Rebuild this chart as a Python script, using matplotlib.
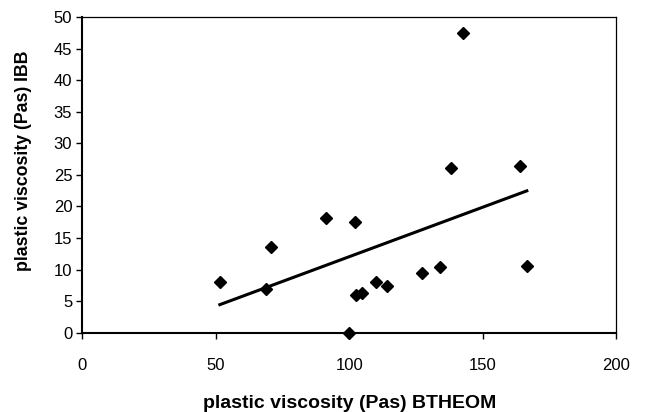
import numpy as np
import matplotlib
matplotlib.use("Agg")
import matplotlib.pyplot as plt

plt.rcParams['font.family'] = ['Liberation Sans', 'DejaVu Sans']

btheom = [51.6, 68.7, 70.7, 91.2, 102.2, 99.9, 102.5, 104.7, 110.2, 114.3,
          127.2, 134.1, 166.5, 142.7, 138.1, 163.9]
ibb = [8.0, 6.9, 13.5, 18.1, 17.5, 0.0, 6.0, 6.3, 8.0, 7.4,
       9.5, 10.4, 10.6, 47.4, 26.1, 26.4]
x_ticks = [0, 50, 100, 150, 200]
y_ticks = [0, 5, 10, 15, 20, 25, 30, 35, 40, 45, 50]
x_label = "plastic viscosity (Pas) BTHEOM"
y_label = "plastic viscosity (Pas) IBB"

fig = plt.figure(figsize=(6.52, 4.12), dpi=100)
ax = fig.add_axes([82/652, 1-332.7/412, (616.3-82)/652, (332.7-17)/412])

x = np.array(btheom)
y = np.array(ibb)
slope, intercept = np.polyfit(x, y, 1)
xl = np.array([x.min(), x.max()])
ax.plot(xl, slope*xl + intercept, color='black', lw=2.2, zorder=2)
ax.plot(x, y, linestyle='none', marker='D', markersize=6.2, color='black', zorder=3, clip_on=False)

ax.set_xlim(0, 200)
ax.set_ylim(0, 50)
ax.set_xticks(x_ticks)
ax.set_yticks(y_ticks)
ax.tick_params(axis='both', direction='out', length=4, width=1, labelsize=12, colors='black')
ax.tick_params(axis='x', pad=14)
ax.tick_params(axis='y', pad=3)
for s in ['left', 'bottom']:
    ax.spines[s].set_linewidth(1.5)
for s in ['top', 'right']:
    ax.spines[s].set_linewidth(0.9)
ax.set_xlabel(x_label, fontsize=14, fontweight='bold', labelpad=16)
ax.set_ylabel(y_label, fontsize=12.8, fontweight='bold', va='center')
ax.yaxis.set_label_coords(-0.1086, 0.544)

fig.savefig('out.png', dpi=100)
